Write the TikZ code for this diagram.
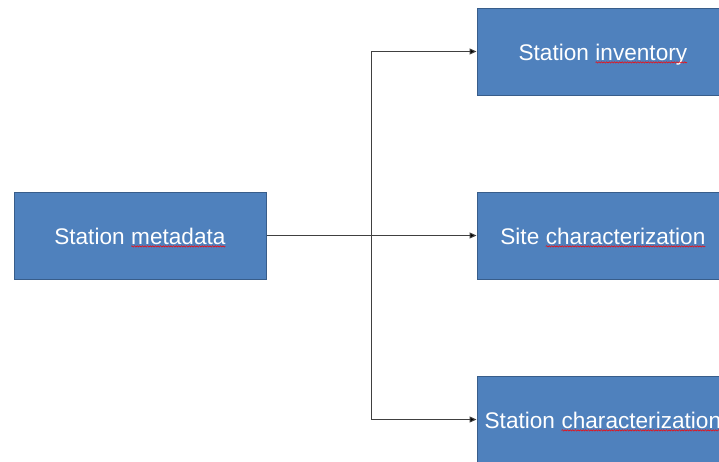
\documentclass[tikz,border=0pt]{standalone}
\usepackage{fontspec}
\setmainfont{Liberation Sans}
\usetikzlibrary{arrows.meta,decorations.pathmorphing}
\definecolor{boxfill}{HTML}{4F81BD}
\definecolor{boxline}{HTML}{385D8A}
\newcommand\sqg[1]{\tikz[baseline=(w.base)]{\node[inner sep=0pt,outer sep=0pt,draw=none,fill=none,minimum width=0pt,minimum height=0pt,text height=,text depth=,text=white] (w) {#1};
 \draw[red, line width=0.5pt, decorate, decoration={snake,amplitude=0.7pt,segment length=2.6pt}] ([yshift=-2.4pt]w.base west) -- ([yshift=-2.4pt]w.base east);}}
\begin{document}
\begin{tikzpicture}[x=1pt,y=-1pt,
 box/.style={draw=boxline, line width=1pt, fill=boxfill, text=white, minimum width=252pt, minimum height=87pt, inner sep=0pt, text height=17pt, text depth=0pt, font=\fontsize{22.6}{27}\selectfont},
 conn/.style={draw=black!75, line width=1pt},
 arr/.style={conn, -{Triangle[length=7pt,width=6pt,fill=black]}}]
\clip (0,0) rectangle (719,461);
\useasboundingbox (0,0) rectangle (719,461);
\node[box] (meta) at (140,235.5) {Station \sqg{metadata}};
\node[box] (inv) at (603,51.5) {Station \sqg{inventory}};
\node[box] (site) at (603,235.5) {Site \sqg{characterization}};
\node[box] (stat) at (603,419.5) {Station \sqg{characterization}};
\coordinate (j) at (371,235.5);
\draw[conn] (meta.east) -- (j);
\draw[arr] (j) |- (inv.west);
\draw[arr] (j) -- (site.west);
\draw[arr] (j) |- (stat.west);
\end{tikzpicture}
\end{document}
